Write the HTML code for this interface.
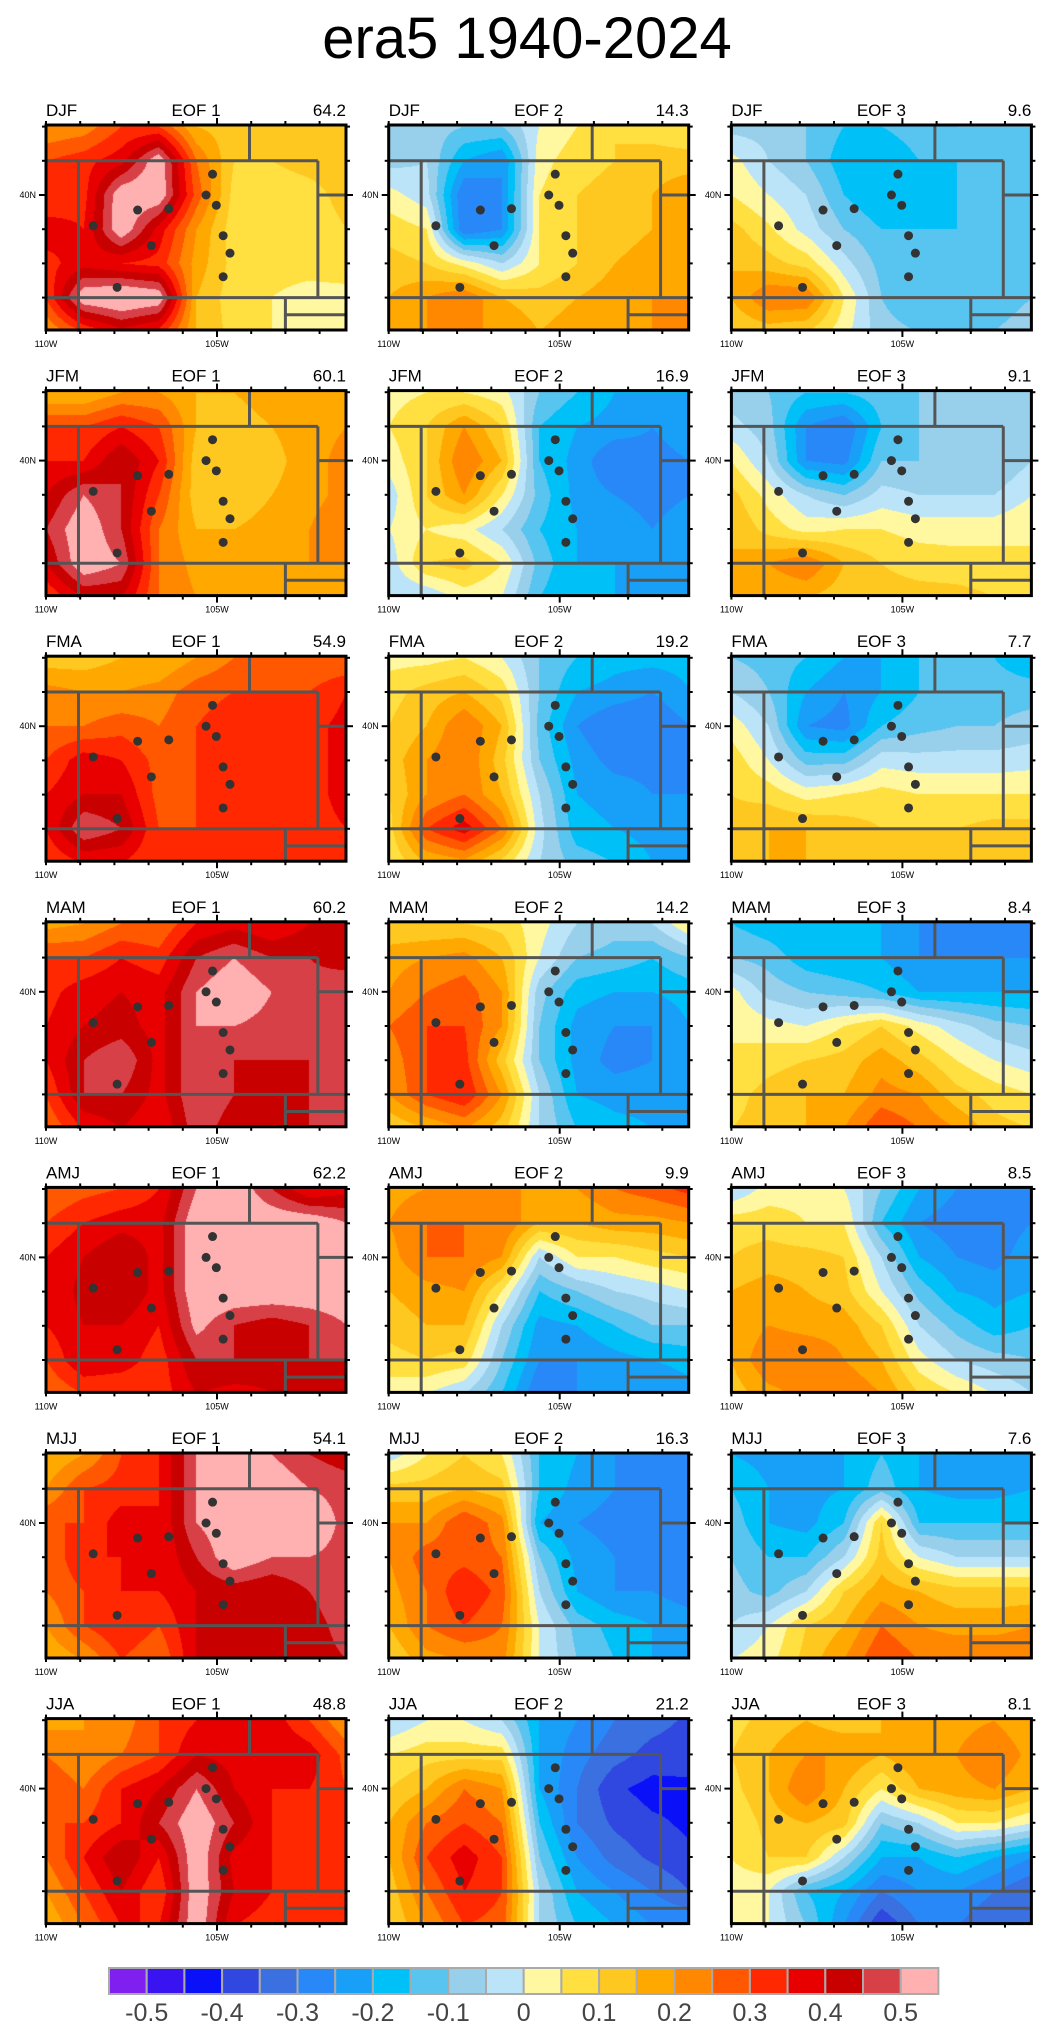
<!DOCTYPE html>
<html><head><meta charset="utf-8"><title>era5 1940-2024 EOF maps</title>
<style>
html,body{margin:0;padding:0;background:#fff;}
body{width:1054px;height:2037px;position:relative;overflow:hidden;font-family:"Liberation Sans",Arial,sans-serif;}
canvas{position:absolute;}
#overlay{position:absolute;left:0;top:0;}
</style></head>
<body>
<div id="fields"></div>
<svg id="overlay" width="1054" height="2037" xmlns="http://www.w3.org/2000/svg">
<text x="527" y="58" text-anchor="middle" font-size="58" font-family="Liberation Sans, sans-serif" fill="#000">era5 1940-2024</text>
</svg>
<script>
const seasons=["DJF","JFM","FMA","MAM","AMJ","MJJ","JJA"];
const eofNames=["EOF 1","EOF 2","EOF 3"];
const varDJF=[64.2,14.3,9.6];
const varJFM=[60.1,16.9,9.1];
const varFMA=[54.9,19.2,7.7];
const varMAM=[60.2,14.2,8.4];
const varAMJ=[62.2,9.9,8.5];
const varMJJ=[54.1,16.3,7.6];
const varJJA=[48.8,21.2,8.1];
const gridLons=[110,108.9,107.8,106.7,105.6,104.5,103.4,102.3,101.2];
const gridLats=[42,41,40,39,38,37,36];
const DJF1=[[0.2,0.22,0.3,0.3,0.15,0.12,0.13,0.13,0.13],[0.3,0.33,0.38,0.55,0.25,0.1,0.1,0.12,0.13],[0.3,0.33,0.55,0.55,0.28,0.08,0.07,0.08,0.12],[0.38,0.35,0.55,0.38,0.2,0.07,0.07,0.07,0.1],[0.33,0.38,0.35,0.33,0.18,0.08,0.07,0.07,0.08],[0.3,0.55,0.58,0.55,0.15,0.07,0.05,0.03,0.03],[0.2,0.3,0.38,0.33,0.15,0.08,0.05,0.03,0.03]];
const DJF2=[[-0.05,-0.07,-0.1,-0.1,0.0,0.05,0.1,0.08,0.06],[-0.07,-0.05,-0.2,-0.25,0.03,0.08,0.1,0.12,0.12],[0.02,-0.03,-0.3,-0.25,0.05,0.1,0.12,0.15,0.2],[0.08,0.05,-0.3,-0.25,0.05,0.1,0.12,0.15,0.2],[0.12,0.1,0.03,-0.05,0.05,0.1,0.15,0.18,0.2],[0.15,0.2,0.25,0.15,0.12,0.15,0.18,0.2,0.2],[0.15,0.2,0.2,0.2,0.15,0.18,0.2,0.2,0.2]];
const DJF3=[[-0.07,-0.07,-0.1,-0.15,-0.15,-0.12,-0.1,-0.1,-0.1],[0.02,-0.05,-0.1,-0.18,-0.2,-0.15,-0.15,-0.15,-0.12],[0.05,0.0,-0.05,-0.15,-0.2,-0.18,-0.15,-0.15,-0.12],[0.12,0.06,-0.02,-0.1,-0.15,-0.15,-0.15,-0.15,-0.12],[0.15,0.12,0.08,-0.03,-0.12,-0.15,-0.15,-0.15,-0.12],[0.15,0.25,0.25,0.05,-0.1,-0.15,-0.15,-0.12,-0.1],[0.1,0.12,0.1,0.02,-0.08,-0.1,-0.1,-0.1,-0.08]];
const JFM1=[[0.15,0.15,0.2,0.2,0.15,0.15,0.18,0.18,0.18],[0.3,0.3,0.35,0.3,0.15,0.12,0.15,0.18,0.2],[0.35,0.35,0.45,0.35,0.12,0.1,0.13,0.18,0.22],[0.4,0.5,0.45,0.3,0.12,0.1,0.15,0.18,0.22],[0.45,0.55,0.45,0.25,0.15,0.15,0.18,0.2,0.25],[0.4,0.55,0.5,0.25,0.18,0.18,0.2,0.2,0.2],[0.3,0.4,0.4,0.25,0.2,0.18,0.18,0.18,0.18]];
const JFM2=[[0.03,0.05,0.05,0.02,-0.1,-0.15,-0.2,-0.2,-0.2],[0.05,0.1,0.2,0.1,-0.15,-0.2,-0.22,-0.25,-0.22],[0.02,0.1,0.25,0.15,-0.15,-0.22,-0.3,-0.27,-0.25],[-0.03,0.1,0.2,0.05,-0.12,-0.22,-0.25,-0.27,-0.25],[0.0,0.05,0.02,-0.05,-0.15,-0.2,-0.22,-0.25,-0.22],[-0.03,0.1,0.12,0.05,-0.12,-0.2,-0.2,-0.25,-0.25],[-0.05,-0.05,0.02,0.0,-0.15,-0.2,-0.2,-0.22,-0.25]];
const JFM3=[[-0.08,-0.1,-0.15,-0.15,-0.12,-0.1,-0.1,-0.1,-0.08],[-0.03,-0.08,-0.25,-0.3,-0.15,-0.1,-0.1,-0.08,-0.08],[0.05,-0.05,-0.25,-0.27,-0.1,-0.1,-0.1,-0.1,-0.05],[0.12,0.03,-0.05,-0.1,-0.03,-0.05,-0.05,-0.05,0.0],[0.15,0.08,0.03,0.05,0.05,0.03,0.03,0.03,0.05],[0.15,0.2,0.25,0.15,0.1,0.08,0.07,0.07,0.05],[0.15,0.15,0.15,0.12,0.12,0.12,0.12,0.1,0.08]];
const FMA1=[[0.12,0.12,0.15,0.15,0.2,0.25,0.25,0.25,0.25],[0.22,0.2,0.2,0.22,0.28,0.3,0.3,0.3,0.35],[0.25,0.25,0.28,0.25,0.3,0.33,0.32,0.33,0.37],[0.3,0.38,0.35,0.28,0.3,0.33,0.33,0.33,0.37],[0.35,0.4,0.4,0.28,0.3,0.32,0.33,0.33,0.37],[0.35,0.5,0.45,0.3,0.3,0.33,0.33,0.33,0.35],[0.3,0.35,0.35,0.3,0.32,0.32,0.33,0.32,0.33]];
const FMA2=[[0.03,0.03,0.05,0.0,-0.1,-0.15,-0.18,-0.18,-0.18],[0.08,0.12,0.15,0.08,-0.1,-0.2,-0.22,-0.25,-0.2],[0.1,0.15,0.25,0.15,-0.12,-0.25,-0.3,-0.3,-0.25],[0.12,0.2,0.25,0.12,-0.1,-0.22,-0.27,-0.27,-0.25],[0.1,0.2,0.25,0.15,-0.05,-0.2,-0.22,-0.25,-0.25],[0.08,0.3,0.38,0.25,-0.03,-0.18,-0.2,-0.22,-0.25],[0.05,0.15,0.18,0.08,-0.05,-0.12,-0.15,-0.2,-0.2]];
const FMA3=[[-0.1,-0.12,-0.15,-0.2,-0.2,-0.15,-0.12,-0.15,-0.2],[-0.05,-0.1,-0.2,-0.25,-0.2,-0.15,-0.12,-0.12,-0.12],[0.03,-0.05,-0.25,-0.27,-0.15,-0.12,-0.1,-0.1,-0.08],[0.08,0.0,-0.12,-0.12,-0.02,-0.03,-0.03,-0.03,-0.02],[0.1,0.08,0.03,0.05,0.07,0.05,0.05,0.05,0.05],[0.12,0.15,0.15,0.13,0.1,0.1,0.1,0.12,0.12],[0.12,0.15,0.15,0.15,0.15,0.15,0.15,0.12,0.15]];
const MAM1=[[0.18,0.2,0.25,0.25,0.35,0.38,0.35,0.4,0.42],[0.3,0.3,0.35,0.32,0.45,0.5,0.45,0.45,0.42],[0.33,0.38,0.4,0.38,0.5,0.55,0.5,0.47,0.5],[0.35,0.4,0.42,0.38,0.5,0.5,0.48,0.48,0.5],[0.35,0.45,0.5,0.38,0.5,0.45,0.45,0.45,0.5],[0.3,0.45,0.45,0.38,0.5,0.45,0.42,0.45,0.48],[0.25,0.35,0.4,0.35,0.48,0.42,0.42,0.45,0.45]];
const MAM2=[[0.1,0.1,0.1,0.08,0.02,-0.05,-0.08,-0.05,0.05],[0.18,0.2,0.22,0.15,0.0,-0.1,-0.12,-0.15,-0.1],[0.2,0.25,0.28,0.2,-0.08,-0.18,-0.2,-0.2,-0.18],[0.25,0.3,0.3,0.2,-0.1,-0.22,-0.25,-0.25,-0.2],[0.22,0.3,0.32,0.12,-0.1,-0.22,-0.27,-0.25,-0.22],[0.2,0.3,0.35,0.2,-0.05,-0.2,-0.22,-0.22,-0.22],[0.1,0.15,0.2,0.12,-0.05,-0.15,-0.18,-0.2,-0.22]];
const MAM3=[[-0.15,-0.18,-0.2,-0.2,-0.2,-0.25,-0.27,-0.3,-0.3],[-0.1,-0.12,-0.18,-0.2,-0.2,-0.25,-0.25,-0.25,-0.25],[0.02,-0.07,-0.1,-0.12,-0.15,-0.2,-0.2,-0.2,-0.2],[0.05,0.02,0.0,0.05,0.1,0.03,-0.03,-0.08,-0.1],[0.05,0.08,0.1,0.12,0.18,0.12,0.05,0.0,-0.03],[0.08,0.12,0.15,0.15,0.22,0.2,0.12,0.08,0.05],[0.1,0.12,0.15,0.2,0.3,0.25,0.2,0.12,0.1]];
const AMJ1=[[0.25,0.28,0.3,0.35,0.5,0.55,0.45,0.35,0.38],[0.3,0.35,0.38,0.38,0.55,0.55,0.55,0.55,0.5],[0.35,0.4,0.45,0.38,0.55,0.55,0.55,0.55,0.55],[0.35,0.42,0.45,0.38,0.55,0.55,0.55,0.55,0.55],[0.35,0.4,0.4,0.35,0.52,0.45,0.42,0.45,0.5],[0.3,0.4,0.38,0.32,0.45,0.45,0.42,0.45,0.45],[0.25,0.3,0.3,0.32,0.4,0.38,0.4,0.42,0.42]];
const AMJ2=[[0.18,0.2,0.2,0.22,0.18,0.2,0.25,0.28,0.32],[0.2,0.25,0.25,0.25,0.15,0.15,0.18,0.18,0.2],[0.18,0.25,0.25,0.2,-0.05,0.05,0.05,0.08,0.1],[0.15,0.18,0.2,0.05,-0.15,-0.1,-0.05,-0.03,0.0],[0.12,0.15,0.15,-0.05,-0.22,-0.2,-0.15,-0.1,-0.1],[0.08,0.1,0.08,-0.1,-0.25,-0.25,-0.22,-0.2,-0.18],[0.02,0.0,-0.05,-0.15,-0.3,-0.25,-0.25,-0.25,-0.22]];
const AMJ3=[[-0.05,0.02,0.03,0.0,-0.1,-0.2,-0.25,-0.25,-0.25],[0.08,0.08,0.05,0.05,-0.15,-0.25,-0.28,-0.28,-0.25],[0.1,0.12,0.12,0.1,-0.05,-0.2,-0.25,-0.27,-0.22],[0.15,0.18,0.15,0.12,0.0,-0.12,-0.2,-0.22,-0.2],[0.15,0.2,0.18,0.18,0.1,-0.05,-0.12,-0.18,-0.15],[0.15,0.25,0.25,0.2,0.15,0.02,-0.05,-0.08,-0.1],[0.12,0.18,0.22,0.25,0.2,0.1,0.05,0.0,-0.05]];
const MJJ1=[[0.15,0.2,0.3,0.35,0.5,0.55,0.5,0.45,0.42],[0.2,0.3,0.32,0.35,0.5,0.55,0.55,0.5,0.48],[0.3,0.3,0.38,0.35,0.5,0.55,0.55,0.55,0.48],[0.25,0.35,0.35,0.35,0.45,0.55,0.5,0.5,0.48],[0.25,0.3,0.35,0.35,0.4,0.42,0.4,0.45,0.5],[0.2,0.3,0.35,0.3,0.4,0.42,0.4,0.42,0.48],[0.15,0.2,0.3,0.25,0.4,0.4,0.4,0.42,0.45]];
const MJJ2=[[-0.03,0.05,0.1,0.05,-0.15,-0.2,-0.25,-0.25,-0.3],[0.12,0.12,0.15,0.12,-0.15,-0.22,-0.25,-0.28,-0.3],[0.2,0.2,0.3,0.22,-0.2,-0.25,-0.27,-0.3,-0.3],[0.2,0.28,0.28,0.25,-0.1,-0.22,-0.25,-0.3,-0.28],[0.18,0.25,0.35,0.28,-0.05,-0.2,-0.25,-0.25,-0.28],[0.15,0.25,0.3,0.25,0.0,-0.12,-0.17,-0.2,-0.22],[0.1,0.18,0.2,0.22,0.0,-0.1,-0.15,-0.2,-0.2]];
const MJJ3=[[-0.2,-0.22,-0.22,-0.2,-0.15,-0.2,-0.2,-0.22,-0.25],[-0.15,-0.2,-0.22,-0.2,-0.12,-0.2,-0.22,-0.22,-0.2],[-0.12,-0.2,-0.22,-0.15,0.1,-0.15,-0.15,-0.15,-0.15],[-0.1,-0.15,-0.15,-0.05,0.12,0.0,-0.05,-0.05,-0.05],[-0.08,-0.12,-0.05,0.1,0.18,0.15,0.12,0.12,0.12],[-0.05,0.0,0.1,0.15,0.25,0.2,0.18,0.18,0.2],[0.0,0.03,0.12,0.2,0.3,0.25,0.25,0.25,0.25]];
const JJA1=[[0.18,0.2,0.22,0.3,0.35,0.35,0.38,0.3,0.2],[0.25,0.2,0.25,0.3,0.4,0.38,0.4,0.38,0.28],[0.3,0.25,0.35,0.4,0.5,0.4,0.35,0.35,0.3],[0.3,0.3,0.35,0.45,0.55,0.45,0.35,0.33,0.3],[0.25,0.35,0.45,0.35,0.55,0.38,0.35,0.33,0.3],[0.2,0.3,0.4,0.3,0.55,0.4,0.35,0.32,0.3],[0.15,0.25,0.35,0.35,0.55,0.35,0.32,0.32,0.3]];
const JJA2=[[-0.05,0.0,0.0,-0.05,-0.2,-0.25,-0.3,-0.33,-0.36],[0.05,0.08,0.08,0.08,-0.2,-0.28,-0.33,-0.37,-0.38],[0.1,0.15,0.25,0.2,-0.2,-0.3,-0.39,-0.42,-0.41],[0.15,0.25,0.3,0.25,-0.15,-0.3,-0.36,-0.39,-0.41],[0.15,0.3,0.38,0.3,-0.1,-0.25,-0.32,-0.36,-0.39],[0.12,0.25,0.35,0.3,-0.05,-0.2,-0.25,-0.3,-0.35],[0.1,0.2,0.3,0.28,-0.05,-0.15,-0.2,-0.25,-0.25]];
const JJA3=[[0.08,0.12,0.15,0.12,0.15,0.15,0.18,0.2,0.15],[0.1,0.15,0.2,0.2,0.15,0.2,0.2,0.25,0.18],[0.08,0.15,0.25,0.15,0.05,0.15,0.18,0.2,0.15],[0.05,0.12,0.15,0.12,-0.1,-0.05,0.05,0.05,0.0],[0.05,0.1,0.1,-0.05,-0.2,-0.2,-0.15,-0.2,-0.25],[0.02,0.0,-0.15,-0.2,-0.3,-0.25,-0.25,-0.3,-0.35],[0.03,0.0,-0.1,-0.25,-0.4,-0.3,-0.3,-0.35,-0.35]];
const stationLons=[105.13,105.32,105.02,104.82,104.62,104.82,107.32,106.41,108.62,106.92,107.92];
const stationLats=[40.61,40.0,39.70,38.81,38.30,37.61,39.56,39.60,39.10,38.52,37.30];
const levelColors=["#8020f0","#3a14f0","#0a10f8","#3048e0","#3a70e0","#2888f8","#18a0f8","#00c0f8","#58c4f0","#98d0ec","#bce4f8","#fff8a0","#ffe040","#ffc820","#ffa800","#ff8800","#ff5800","#ff2800","#e80000","#c80000","#d84048","#ffb0b0"];
const cbLabels=["-0.5","-0.4","-0.3","-0.2","-0.1","0","0.1","0.2","0.3","0.4","0.5"];
const cbLabelValues=[-0.5,-0.4,-0.3,-0.2,-0.1,0,0.1,0.2,0.3,0.4,0.5];

const fields=[[DJF1,DJF2,DJF3],[JFM1,JFM2,JFM3],[FMA1,FMA2,FMA3],[MAM1,MAM2,MAM3],[AMJ1,AMJ2,AMJ3],[MJJ1,MJJ2,MJJ3],[JJA1,JJA2,JJA3]];
const variances=[varDJF,varJFM,varFMA,varMAM,varAMJ,varMJJ,varJJA];

const NS="http://www.w3.org/2000/svg";
const svg=document.getElementById('overlay');
const fieldsDiv=document.getElementById('fields');
const PW=300,PH=205,X0=46,Y0=125,DX=342.7,DY=265.6,DEG=34.2;
function xOf(lon){return (110-lon)*DEG;}
function yOf(lat){return 70+(40-lat)*DEG;}
function levelIndex(v){let k=Math.floor((v+0.5)/0.05+1e-9)+1;return Math.max(0,Math.min(21,k));}
function hexToRgb(h){return [parseInt(h.slice(1,3),16),parseInt(h.slice(3,5),16),parseInt(h.slice(5,7),16)];}
const rgbLevels=levelColors.map(hexToRgb);
function mk(tag,attrs,parent){const e=document.createElementNS(NS,tag);for(const k in attrs)e.setAttribute(k,attrs[k]);(parent||svg).appendChild(e);return e;}
function sample(grid,lon,lat){
  const fx=(110-lon)/1.1, fy=(42-lat)/1.0;
  const ix=Math.max(0,Math.min(7,Math.floor(fx))), iy=Math.max(0,Math.min(5,Math.floor(fy)));
  const tx=Math.max(0,Math.min(1,fx-ix)), ty=Math.max(0,Math.min(1,fy-iy));
  const a=grid[iy][ix],b=grid[iy][ix+1],c=grid[iy+1][ix],d=grid[iy+1][ix+1];
  return (a*(1-tx)+b*tx)*(1-ty)+(c*(1-tx)+d*tx)*ty;
}
const stateLines=[[[110,41],[102.05,41]],[[110,37],[101.2,37]],[[109.05,41],[109.05,36]],[[102.05,41],[102.05,37]],[[104.05,42.05],[104.05,41]],[[102.05,40],[101.2,40]],[[103,37],[103,36]],[[103,36.5],[101.2,36.5]]];

for(let r=0;r<7;r++){for(let c=0;c<3;c++){
  const px=X0+c*DX, py=Y0+r*DY;
  const cv=document.createElement('canvas');
  cv.width=PW;cv.height=PH;cv.style.left=px+'px';cv.style.top=py+'px';
  
  
  fieldsDiv.appendChild(cv);
  const ctx=cv.getContext('2d');const img=ctx.createImageData(PW,PH);
  const g=fields[r][c];
  for(let y=0;y<PH;y++){for(let x=0;x<PW;x++){
    const lon=110-(x+0.5)/DEG, lat=40-((y+0.5)-70)/DEG;
    const col=rgbLevels[levelIndex(sample(g,lon,lat))];
    const i=(y*PW+x)*4;img.data[i]=col[0];img.data[i+1]=col[1];img.data[i+2]=col[2];img.data[i+3]=255;
  }}
  ctx.putImageData(img,0,0);
  const grp=mk('g',{transform:'translate('+px+','+py+')'});
  
  
  for(const L of stateLines){
    const ln=mk('line',{x1:xOf(L[0][0]),y1:yOf(L[0][1]),x2:xOf(L[1][0]),y2:yOf(L[1][1]),stroke:'#555',"stroke-width":3},grp);
    
    
  }
  for(let s=0;s<stationLons.length;s++){
    const d=mk('circle',{cx:xOf(stationLons[s]),cy:yOf(stationLats[s]),r:4.5,fill:'#333'},grp);
    
    
  }
  const fr=mk('rect',{x:0,y:0,width:PW,height:PH,fill:'none',stroke:'#000',"stroke-width":3},grp);
  
  
  for(let k=0;k<9;k++){const x=k*DEG;const len=(k===5)?7:4;
    mk('line',{x1:x,y1:0,x2:x,y2:-len,stroke:'#000',"stroke-width":2},grp);
    mk('line',{x1:x,y1:PH,x2:x,y2:PH+len,stroke:'#000',"stroke-width":2},grp);}
  for(let k=0;k<7;k++){const y=70+(k-2)*DEG;if(y<-1||y>PH+1)continue;const len=(k===2)?7:4;
    mk('line',{x1:0,y1:y,x2:-len,y2:y,stroke:'#000',"stroke-width":2},grp);
    mk('line',{x1:PW,y1:y,x2:PW+len,y2:y,stroke:'#000',"stroke-width":2},grp);}
  const t1=mk('text',{x:0,y:PH+17,"text-anchor":"middle","font-size":9},grp);t1.textContent='110W';
  
  
  const t2=mk('text',{x:xOf(105),y:PH+17,"text-anchor":"middle","font-size":9},grp);t2.textContent='105W';
  
  
  const t3=mk('text',{x:-10,y:73,"text-anchor":"end","font-size":9},grp);t3.textContent='40N';
  
  
  const h1=mk('text',{x:0,y:-9,"font-size":17},grp);h1.textContent=seasons[r];
  
  
  const h2=mk('text',{x:PW/2,y:-9,"text-anchor":"middle","font-size":17},grp);h2.textContent=eofNames[c];
  
  
  const h3=mk('text',{x:PW,y:-9,"text-anchor":"end","font-size":17},grp);h3.textContent=variances[r][c].toFixed(1);
  
  
}}

const cbX=109,cbY=1968,cbW=37.7,cbH=26;
const cb=mk('g',{});


for(let i=0;i<levelColors.length;i++){
  const b=mk('rect',{x:cbX+i*cbW,y:cbY,width:cbW,height:cbH,fill:levelColors[i],stroke:'#aaa',"stroke-width":2},cb);
  
  
}
for(let i=0;i<cbLabels.length;i++){
  const bound=Math.round((cbLabelValues[i]+0.5)/0.05)+1;
  const t=mk('text',{x:cbX+bound*cbW,y:2021,"text-anchor":"middle","font-size":25,fill:"#444"},cb);
  t.textContent=cbLabels[i];
  
  
}
</script>
</body></html>
